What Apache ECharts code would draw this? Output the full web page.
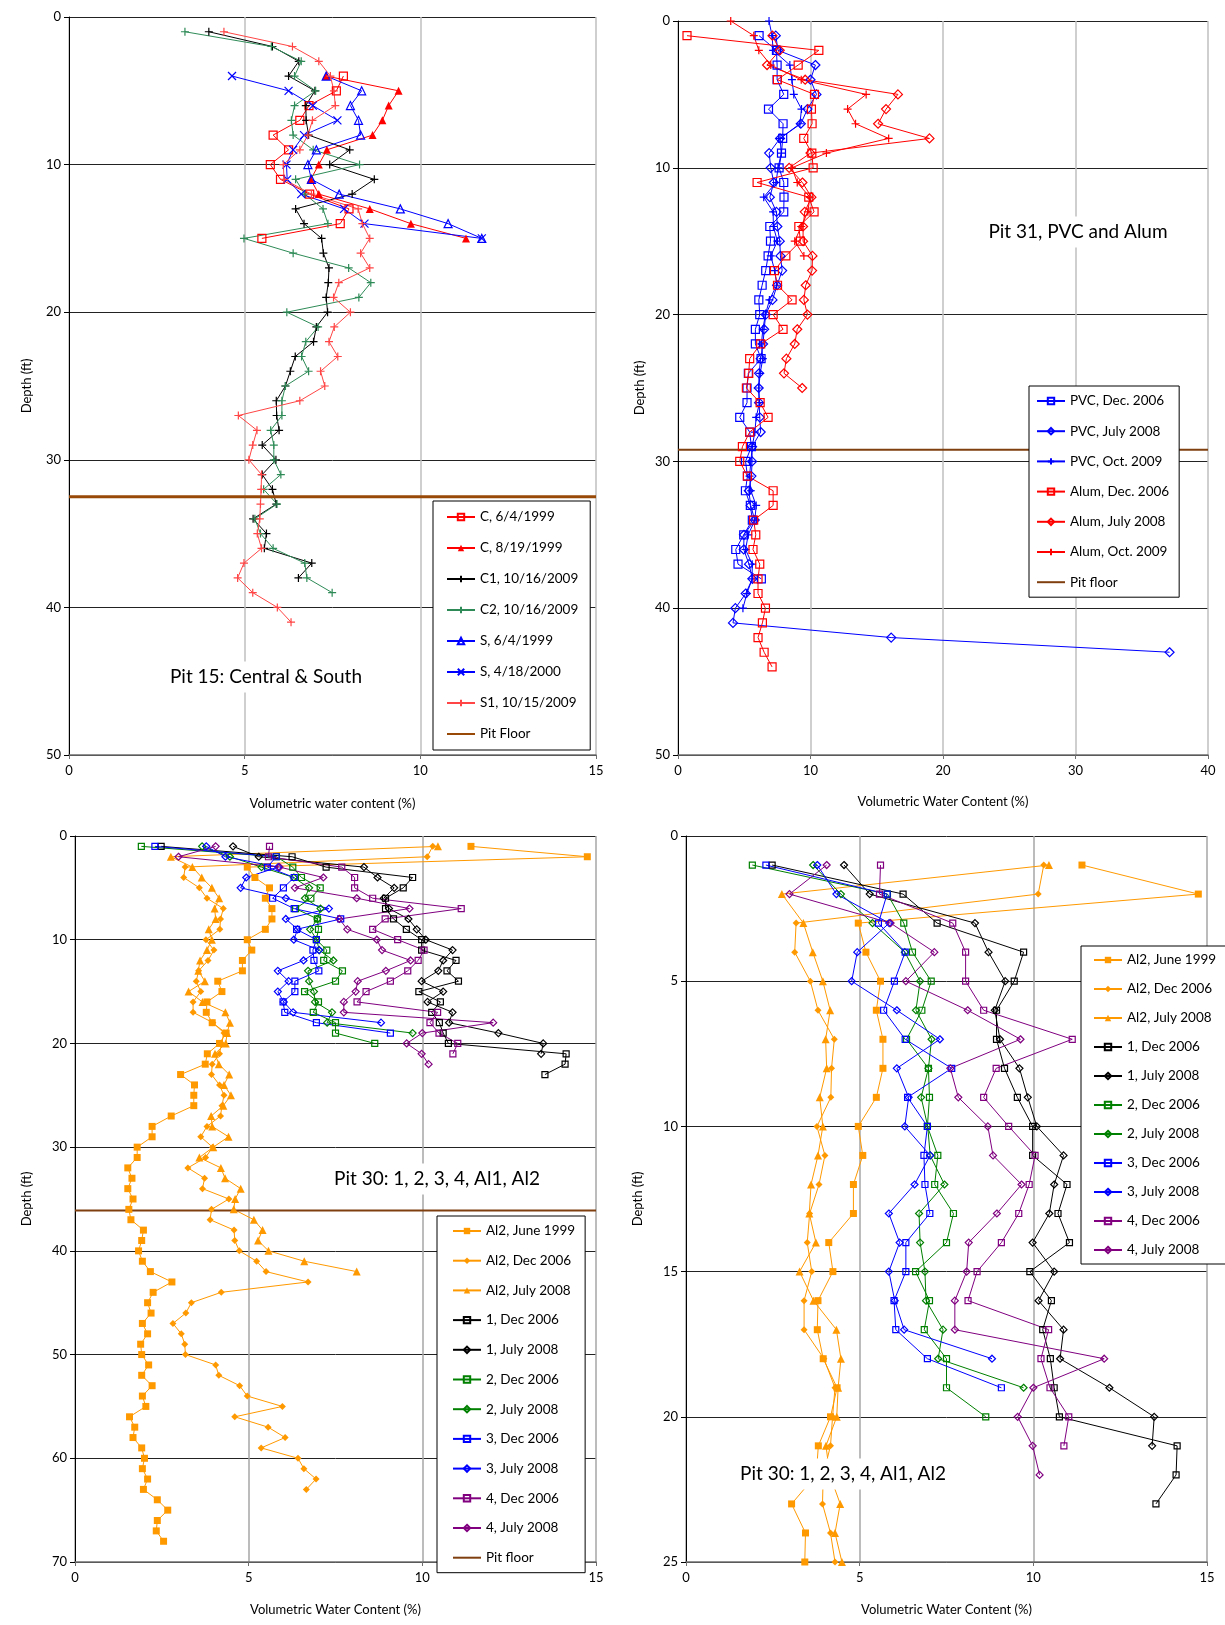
<!DOCTYPE html>
<html>
<head>
<meta charset="utf-8">
<title>Soil moisture profiles</title>
<script src="https://cdn.jsdelivr.net/npm/echarts@6/dist/echarts.min.js"></script>
<style>
  html, body { margin: 0; padding: 0; background: #fff; }
  #chart { width: 1225px; height: 1625px; }
</style>
</head>
<body>
<div id="chart"></div>
<script>
// depth (ft), one reading per foot
const depthFt = [0, 1, 2, 3, 4, 5, 6, 7, 8, 9, 10, 11, 12, 13, 14, 15, 16, 17, 18, 19, 20,
  21, 22, 23, 24, 25, 26, 27, 28, 29, 30, 31, 32, 33, 34, 35, 36, 37, 38, 39, 40,
  41, 42, 43, 44, 45, 46, 47, 48, 49, 50, 51, 52, 53, 54, 55, 56, 57, 58, 59, 60,
  61, 62, 63, 64, 65, 66, 67, 68];

// ---- Pit 15 (volumetric water content %, first reading depth in comment)
const p15C_0699 = [7.81, 7.61, 6.83, 6.57, 5.81, 6.25, 5.73, 6.02, 6.85, 7.97, 7.72, 5.49]; // from 4 ft
const p15C_0899 = [7.32, 9.38, 9.10, 8.92, 8.64, 7.34, 7.11, 6.88, 7.11, 8.56, 9.73, 11.30]; // from 4 ft
const p15C1_2009 = [3.98, 5.79, 6.54, 6.25, 7.00, 6.74, 6.75, 6.82, 7.99, 7.42,
  8.69, 8.06, 6.45, 6.69, 7.19, 7.24, 7.40, 7.38, 7.32, 7.36,
  7.04, 6.96, 6.44, 6.30, 6.16, 5.90, 5.91, 5.98, 5.50, 5.89,
  5.50, 5.79, 5.90, 5.24, 5.62, 5.56, 6.91, 6.53]; // from 1 ft
const p15C2_2009 = [3.30, 5.76, 6.61, 6.42, 7.02, 6.42, 6.33, 6.38, 6.95, 8.27,
  6.45, 6.71, 7.23, 7.37, 4.98, 6.38, 7.96, 8.59, 8.25, 6.20,
  7.09, 6.74, 6.62, 6.82, 6.16, 6.06, 6.06, 5.74, 5.83, 5.83,
  6.03, 5.54, 5.92, 5.29, 5.45, 5.81, 6.71, 6.77, 7.49]; // from 1 ft
const p15S_0699 = [7.32, 8.33, 8.01, 8.24, 8.30, 7.04, 6.80, 6.90, 7.69, 9.43, 10.79, 11.75]; // from 4 ft
const p15S_0400 = [4.64, 6.25, 6.94, 7.64, 6.69, 6.38, 6.19, 6.21, 6.61, 7.83, 8.41, 11.75]; // from 4 ft
const p15S1_2009 = [4.41, 6.36, 7.11, 7.44, 7.54, 7.58, 6.93, 6.80, 6.57, 6.10,
  6.12, 6.90, 8.23, 8.35, 8.56, 8.30, 8.56, 7.68, 7.53, 8.01,
  7.55, 7.40, 7.65, 7.16, 7.28, 6.57, 4.82, 5.35, 5.23, 5.12,
  5.48, 5.47, 5.45, 5.43, 5.36, 5.48, 4.98, 4.80, 5.23, 5.93, 6.32]; // from 1 ft
const p15Floor = 32.5;

// ---- Pit 31
const p31PvcDec06 = [6.12, 7.43, 7.48, 7.48, 7.98, 6.83, 7.93, 7.90, 7.81, 7.63,
  7.98, 8.00, 7.98, 6.93, 6.98, 6.80, 6.62, 6.35, 6.10, 6.17,
  5.84, 5.84, 6.27, 5.31, 5.21, 5.21, 4.66, 5.41, 5.54, 5.10,
  5.24, 5.09, 5.46, 5.61, 4.96, 4.36, 4.53, 6.29]; // from 1 ft
const p31PvcJul08 = [7.38, 7.55, 10.37, 10.00, 10.45, 9.77, 9.27, 7.70, 6.88, 7.00,
  7.23, 6.93, 7.43, 7.50, 7.68, 7.73, 7.86, 7.48, 7.13, 6.62,
  6.50, 6.42, 6.24, 6.12, 6.09, 6.12, 6.17, 6.24, 5.59, 5.59,
  5.54, 5.34, 5.49, 5.79, 4.98, 4.96, 5.36, 5.61, 5.11, 4.33,
  4.15, 16.09, 37.1]; // from 1 ft
const p31PvcOct09 = [6.87, 7.10, 7.18, 8.44, 8.60, 8.74, 9.32, 9.20, 7.70, 7.80,
  7.55, 7.40, 6.47, 7.18, 7.20, 7.50, 7.00, 7.30, 7.45, 6.90,
  6.60, 6.40, 6.30, 6.40, 6.20, 6.10, 6.15, 5.90, 5.80, 5.60,
  5.50, 5.40, 5.50, 5.90, 5.80, 5.30, 5.10, 5.60, 5.60, 5.20, 4.90]; // from 0 ft
const p31AlumDec06 = [0.68, 10.63, 9.07, 7.50, 10.30, 10.07, 10.12, 9.49, 10.10, 10.20,
  5.97, 9.87, 10.27, 9.12, 9.24, 8.14, 7.28, 7.51, 8.61, 7.18,
  7.93, 6.24, 5.41, 5.34, 5.16, 6.20, 6.80, 5.41, 4.86, 4.66,
  5.24, 7.18, 7.18, 5.71, 5.87, 5.66, 6.17, 6.04, 6.04, 6.60,
  6.37, 6.04, 6.50, 7.10]; // from 1 ft
const p31AlumJul08 = [7.13, 7.68, 6.72, 9.60, 16.60, 15.70, 15.10, 18.98, 10.00, 8.39,
  9.39, 10.07, 9.57, 9.44, 9.44, 10.15, 10.12, 9.64, 9.50, 9.77,
  9.00, 8.81, 8.18, 8.00, 9.37]; // from 1 ft
const p31AlumOct09 = [3.98, 5.72, 6.10, 7.00, 9.30, 14.20, 12.80, 13.40, 15.90, 11.20,
  8.60, 9.00, 9.95, 9.80, 9.30, 8.81, 9.50]; // from 0 ft
const p31Floor = 29.2;

// ---- Pit 30 (all from 1 ft)
const p30Al2Jun99 = [11.40, 14.75, 4.96, 5.18, 5.60, 5.48, 5.67, 5.67, 5.48, 4.96,
  5.09, 4.82, 4.82, 4.11, 4.23, 3.80, 3.78, 3.95, 4.35, 4.16,
  3.81, 3.75, 3.04, 3.44, 3.42, 3.42, 2.77, 2.22, 2.22, 1.79,
  1.79, 1.52, 1.64, 1.52, 1.67, 1.55, 1.61, 1.97, 1.92, 1.83,
  1.94, 2.17, 2.79, 2.25, 2.09, 2.19, 1.94, 2.09, 1.89, 1.92,
  2.12, 1.92, 2.22, 1.94, 2.04, 1.57, 1.72, 1.67, 1.92, 2.00,
  1.94, 2.09, 1.97, 2.37, 2.67, 2.37, 2.34, 2.55];
const p30Al2Dec06 = [10.30, 10.14, 3.17, 3.13, 3.58, 3.80, 4.27, 4.19, 4.17, 3.77,
  4.00, 3.83, 3.56, 3.49, 3.62, 3.40, 3.40, 3.97, 4.29, 4.22,
  4.16, 3.95, 3.93, 4.16, 4.29, 4.23, 4.19, 3.80, 3.62, 3.96,
  3.76, 3.25, 3.73, 3.67, 4.43, 3.93, 3.89, 4.58, 4.60, 4.73,
  5.23, 5.50, 6.71, 4.21, 3.35, 3.19, 2.82, 3.06, 3.16, 3.18,
  4.05, 4.14, 4.74, 4.96, 5.97, 4.60, 5.56, 6.05, 5.36, 6.42,
  6.59, 6.94, 6.66];
const p30Al2Jul08 = [10.45, 2.76, 3.38, 3.65, 3.94, 4.15, 4.02, 4.05, 3.85, 3.94,
  3.80, 3.60, 3.55, 3.74, 3.27, 3.67, 4.33, 4.46, 4.38, 4.34,
  4.03, 4.14, 4.44, 4.29, 4.49, 4.27, 3.92, 3.95, 4.42, 3.98,
  3.58, 4.20, 4.32, 4.77, 4.61, 4.57, 5.15, 5.40, 5.27, 5.57,
  6.60, 8.11];
const p30N1Dec06 = [2.48, 6.25, 7.23, 9.72, 9.45, 8.94, 8.94, 9.17, 9.54, 9.98,
  9.98, 10.97, 10.71, 11.04, 9.90, 10.52, 10.27, 10.49, 10.60, 10.75,
  14.14, 14.11, 13.53];
const p30N1Jul08 = [4.55, 5.29, 8.32, 8.71, 9.19, 8.89, 9.04, 9.60, 9.84, 10.10,
  10.87, 10.60, 10.46, 9.98, 10.60, 10.15, 10.87, 10.77, 12.19, 13.48, 13.42];
const p30N2Dec06 = [1.91, 5.80, 6.27, 6.52, 7.06, 6.79, 6.35, 6.98, 7.01, 6.95,
  7.25, 7.16, 7.70, 7.50, 6.61, 7.01, 6.86, 7.50, 7.50, 8.63];
const p30N2Jul08 = [3.66, 4.46, 5.37, 6.30, 6.74, 6.62, 7.07, 6.98, 6.77, 6.96,
  7.03, 7.44, 6.71, 6.74, 6.88, 6.91, 7.40, 7.26, 9.72];
const p30N3Dec06 = [2.30, 5.79, 5.54, 6.31, 6.00, 5.69, 6.31, 7.65, 6.38, 6.95,
  6.85, 6.88, 7.02, 6.33, 6.33, 5.99, 6.04, 6.95, 9.08];
const p30N3Jul08 = [3.78, 4.33, 5.85, 4.93, 4.77, 6.07, 7.31, 6.07, 6.41, 6.30,
  7.03, 6.58, 5.84, 6.15, 5.84, 6.01, 6.28, 8.81];
const p30N4Dec06 = [5.60, 5.57, 7.68, 8.05, 8.05, 8.57, 11.12, 8.93, 8.57, 9.29,
  10.05, 9.88, 9.58, 9.08, 8.38, 8.12, 10.44, 10.22, 10.48, 11.02, 10.88];
const p30N4Jul08 = [4.05, 2.98, 5.89, 7.15, 6.33, 8.11, 9.63, 7.61, 7.84, 8.69,
  8.84, 9.66, 8.95, 8.14, 8.08, 7.74, 7.74, 12.04, 10.00, 9.55, 9.98, 10.18];
const p30Floor = 36.1;

const legend15 = ['C, 6/4/1999', 'C, 8/19/1999', 'C1, 10/16/2009', 'C2, 10/16/2009',
  'S, 6/4/1999', 'S, 4/18/2000', 'S1, 10/15/2009', 'Pit Floor'];
const legend31 = ['PVC, Dec. 2006', 'PVC, July 2008', 'PVC, Oct. 2009',
  'Alum, Dec. 2006', 'Alum, July 2008', 'Alum, Oct. 2009', 'Pit floor'];
const legend30 = ['Al2, June 1999', 'Al2, Dec 2006', 'Al2, July 2008', '1, Dec 2006', '1, July 2008',
  '2, Dec 2006', '2, July 2008', '3, Dec 2006', '3, July 2008', '4, Dec 2006', '4, July 2008'];

const FONT = 'Lato';
const PLUS = 'path://M0,5L10,5M5,0L5,10';
const CROSS = 'path://M0,0L10,10M10,0L0,10';
const CLEAR = 'rgba(255,255,255,0)';

function prof(g, name, vals, d0, color, symbol, size, hollow) {
  return {
    type: 'line', name: name, xAxisIndex: g, yAxisIndex: g,
    data: vals.map((v, i) => [v, depthFt[d0 + i]]),
    symbol: symbol, symbolSize: size,
    lineStyle: { color: color, width: 1 },
    itemStyle: hollow || symbol.indexOf('path') === 0
      ? { color: CLEAR, borderColor: color, borderWidth: 1.2 }
      : { color: color, borderColor: color, borderWidth: 0 },
    emphasis: { disabled: true },
    animation: false
  };
}

// horizontal pit floor across the whole axis
function floor(g, name, depth, xmax, color, width) {
  return {
    type: 'line', name: name, xAxisIndex: g, yAxisIndex: g,
    data: [[0, depth], [xmax, depth]],
    symbol: 'none', lineStyle: { color: color, width: width },
    itemStyle: { color: CLEAR, borderWidth: 0 }, emphasis: { disabled: true }
  };
}

function xAx(g, max, interval, name, gap, gridColor) {
  return {
    gridIndex: g, type: 'value', min: 0, max: max, interval: interval,
    name: name, nameLocation: 'middle', nameGap: gap,
    nameTextStyle: { fontFamily: FONT, fontSize: 13, color: '#000' },
    axisLine: { onZero: false, lineStyle: { color: '#6e6e6e', width: 1.5 } },
    axisTick: { show: true, length: 4, lineStyle: { color: '#6e6e6e' } },
    axisLabel: { fontFamily: FONT, fontSize: 13, color: '#000', margin: 9 },
    splitLine: { show: true, lineStyle: { color: gridColor, width: 1.5 } }
  };
}

function yAx(g, max, interval, gap) {
  return {
    gridIndex: g, type: 'value', inverse: true, min: 0, max: max, interval: interval,
    name: 'Depth (ft)', nameLocation: 'middle', nameGap: gap, nameRotate: 90,
    nameTextStyle: { fontFamily: FONT, fontSize: 13, color: '#000' },
    axisLine: { onZero: false, show: true, lineStyle: { color: '#000', width: 1 } },
    axisTick: { show: true, length: 5, lineStyle: { color: '#000' } },
    axisLabel: { fontFamily: FONT, fontSize: 13, color: '#000', margin: 8 },
    splitLine: { show: true, lineStyle: { color: '#222', width: 1 } }
  };
}

function leg(names, left, top, gap, pad) {
  return {
    data: names, orient: 'vertical', left: left, top: top,
    itemWidth: 28, itemHeight: 8, itemGap: gap, padding: pad,
    backgroundColor: '#fff', borderColor: '#000', borderWidth: 1, borderRadius: 0,
    selectedMode: false,
    textStyle: { fontFamily: FONT, fontSize: 13.5, color: '#000' }
  };
}

function label(x, y, text) {
  return {
    type: 'text', x: x, y: y, z: 20,
    style: {
      text: text, font: '19px Lato', fill: '#000',
      align: 'center', verticalAlign: 'middle',
      backgroundColor: '#fff', padding: [6, 8]
    }
  };
}

const RED = '#FF0000', RED2 = '#FF4545', SEA = '#2E8B57', BLUE = '#0000FF',
  ORANGE = '#FF9900', GREEN = '#008000', PURPLE = '#800080';

function pit30(g) {
  return [
    prof(g, 'Al2, June 1999', p30Al2Jun99, 1, ORANGE, 'rect', 7, false),
    prof(g, 'Al2, Dec 2006', p30Al2Dec06, 1, ORANGE, 'diamond', 7, false),
    prof(g, 'Al2, July 2008', p30Al2Jul08, 1, ORANGE, 'triangle', 8, false),
    prof(g, '1, Dec 2006', p30N1Dec06, 1, '#000', 'rect', 6, true),
    prof(g, '1, July 2008', p30N1Jul08, 1, '#000', 'diamond', 7, true),
    prof(g, '2, Dec 2006', p30N2Dec06, 1, GREEN, 'rect', 6, true),
    prof(g, '2, July 2008', p30N2Jul08, 1, GREEN, 'diamond', 7, true),
    prof(g, '3, Dec 2006', p30N3Dec06, 1, BLUE, 'rect', 6, true),
    prof(g, '3, July 2008', p30N3Jul08, 1, BLUE, 'diamond', 7, true),
    prof(g, '4, Dec 2006', p30N4Dec06, 1, PURPLE, 'rect', 6, true),
    prof(g, '4, July 2008', p30N4Jul08, 1, PURPLE, 'diamond', 7, true)
  ];
}

const chart = echarts.init(document.getElementById('chart'), null, { renderer: 'canvas' });
chart.setOption({
  animation: false,
  backgroundColor: '#fff',
  textStyle: { fontFamily: FONT },
  grid: [
    { left: 69, top: 17, width: 527, height: 738, outerBoundsMode: 'none' },
    { left: 678, top: 21, width: 530, height: 734, outerBoundsMode: 'none' },
    { left: 75, top: 836, width: 521, height: 726, outerBoundsMode: 'none' },
    { left: 686, top: 836, width: 521, height: 726, outerBoundsMode: 'none' }
  ],
  xAxis: [
    xAx(0, 15, 5, 'Volumetric water content (%)', 42, '#BFBFBF'),
    xAx(1, 40, 10, 'Volumetric Water Content (%)', 40, '#BFBFBF'),
    xAx(2, 15, 5, 'Volumetric Water Content (%)', 41, '#A6A6A6'),
    xAx(3, 15, 5, 'Volumetric Water Content (%)', 41, '#A6A6A6')
  ],
  yAxis: [
    yAx(0, 50, 10, 36),
    yAx(1, 50, 10, 32),
    yAx(2, 70, 10, 42),
    yAx(3, 25, 5, 42)
  ],
  legend: [
    leg(legend15, 433, 501, 17, [9, 12, 9, 13]),
    leg(legend31, 1029, 386, 16.2, [8, 10, 8, 7]),
    leg(legend30.concat(['Pit floor']), 437, 1216, 15.7, [8, 10, 8, 15]),
    leg(legend30, 1081, 946, 15, [7, 10, 7, 12])
  ],
  graphic: [
    label(266, 677, 'Pit 15: Central & South'),
    label(1078, 232, 'Pit 31, PVC and Alum'),
    label(437, 1179, 'Pit 30: 1, 2, 3, 4, Al1, Al2'),
    label(843, 1474, 'Pit 30: 1, 2, 3, 4, Al1, Al2')
  ],
  series: [
    prof(0, 'C, 6/4/1999', p15C_0699, 4, RED, 'rect', 8, true),
    prof(0, 'C, 8/19/1999', p15C_0899, 4, RED, 'triangle', 8, false),
    prof(0, 'C1, 10/16/2009', p15C1_2009, 1, '#000', PLUS, 8, true),
    prof(0, 'C2, 10/16/2009', p15C2_2009, 1, SEA, PLUS, 8, true),
    prof(0, 'S, 6/4/1999', p15S_0699, 4, BLUE, 'triangle', 8, true),
    prof(0, 'S, 4/18/2000', p15S_0400, 4, BLUE, CROSS, 8, true),
    prof(0, 'S1, 10/15/2009', p15S1_2009, 1, RED2, PLUS, 8, true),
    floor(0, 'Pit Floor', p15Floor, 15, '#984807', 3),

    prof(1, 'PVC, Dec. 2006', p31PvcDec06, 1, BLUE, 'rect', 8, true),
    prof(1, 'PVC, July 2008', p31PvcJul08, 1, BLUE, 'diamond', 9, true),
    prof(1, 'PVC, Oct. 2009', p31PvcOct09, 0, BLUE, PLUS, 8, true),
    prof(1, 'Alum, Dec. 2006', p31AlumDec06, 1, RED, 'rect', 8, true),
    prof(1, 'Alum, July 2008', p31AlumJul08, 1, RED, 'diamond', 9, true),
    prof(1, 'Alum, Oct. 2009', p31AlumOct09, 0, RED, PLUS, 8, true),
    floor(1, 'Pit floor', p31Floor, 40, '#7F3F0F', 2)
  ]
    .concat(pit30(2))
    .concat([floor(2, 'Pit floor', p30Floor, 15, '#7F3F0F', 2)])
    .concat(pit30(3))
});
</script>
</body>
</html>
